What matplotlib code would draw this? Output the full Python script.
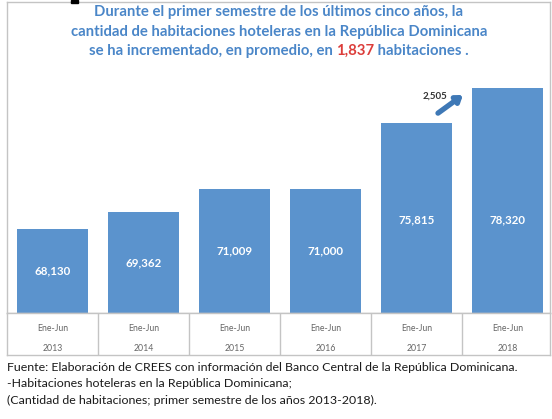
import numpy as np
import matplotlib
matplotlib.use("Agg")
import matplotlib.pyplot as plt
from matplotlib.patches import Rectangle

# datos
years = ["2013", "2014", "2015", "2016", "2017", "2018"]
period = ["Ene-Jun"] * 6
rooms = [68130, 69362, 71009, 71000, 75815, 78320]
labels = ["68,130", "69,362", "71,009", "71,000", "75,815", "78,320"]
jump_label = "2,505"

title_lines = ["Durante el primer semestre de los últimos cinco años, la",
               "cantidad de habitaciones hoteleras en la República Dominicana"]
title_last = ["se ha incrementado, en promedio, en ", "1,837", " habitaciones ."]
notes = ["Fuente: Elaboración de CREES con información del Banco Central de la República Dominicana.",
         "-Habitaciones hoteleras en la República Dominicana;",
         "(Cantidad de habitaciones; primer semestre de los años 2013-2018)."]

BLUE = "#5b93cd"
TBLUE = "#4a86c8"
RED = "#dc3d3a"
GRID = "#c4c4c4"

plt.rcParams["font.family"] = ["Lato", "DejaVu Sans"]

W, H = 552, 419
fig = plt.figure(figsize=(W / 100, H / 100), dpi=100)
r = fig.canvas.get_renderer()

def fx(px):
    return px / W

def fy(py):
    return 1 - py / H

def fit_size(txt, target, weight="normal"):
    # tamano de letra para que la linea ocupe target px
    t = fig.text(0, 0, txt, fontsize=10, fontweight=weight)
    w = t.get_window_extent(r).width
    t.remove()
    return 10 * target / w

# escala vertical (el eje no empieza en cero)
ymin = 62060
ymax = ymin + 311 / 0.01384
col = 91.0
left, right = 7, 550
xr = -0.5 + (right - left) / col

ax = fig.add_axes([fx(left), fy(313), fx(right - left), (313 - 2) / H])
x = np.arange(len(years))
ax.bar(x, rooms, width=0.77, color=BLUE, zorder=2)
ax.set_xlim(-0.5, xr)
ax.set_ylim(ymin, ymax)
ax.set_xticks([])
ax.set_yticks([])
for s in ax.spines.values():
    s.set_color(GRID)
    s.set_linewidth(1)

cap = 68780
for i, v in enumerate(rooms):
    ax.text(i, min((v + ymin) / 2, cap), labels[i], color="white",
            fontsize=8.3, fontweight="bold", ha="center", va="center")

# flecha del incremento
ax.annotate("", xy=(4.51, 77810), xytext=(4.236, 76500),
            arrowprops=dict(arrowstyle="-|>,head_length=0.35,head_width=0.25",
                            color="#3e78b6", lw=3.8, shrinkA=0, shrinkB=0))
ax.text(4.2, 77740, jump_label, fontsize=7, fontweight="bold",
        color="#333333", ha="center", va="center")

# tabla de categorias
tax = fig.add_axes([fx(left), fy(355), fx(right - left), 42 / H])
tax.set_xlim(-0.5, xr)
tax.set_ylim(0, 1)
tax.set_xticks([])
tax.set_yticks([])
for s in tax.spines.values():
    s.set_color(GRID)
    s.set_linewidth(1)
for i in range(1, len(years)):
    tax.axvline(i - 0.5, color=GRID, lw=1)
for i in range(len(years)):
    tax.text(i, 0.64, period[i], fontsize=6.3, color="#666666", ha="center", va="center")
    tax.text(i, 0.16, years[i], fontsize=6.3, color="#666666", ha="center", va="center")

# titulo
cx = 279
tsize = fit_size(title_lines[1], 417, "bold")
fig.text(fx(cx), fy(12), title_lines[0], color=TBLUE, fontsize=tsize,
         fontweight="bold", ha="center", va="center")
fig.text(fx(cx), fy(32), title_lines[1], color=TBLUE, fontsize=tsize,
         fontweight="bold", ha="center", va="center")

parts = []
for t, c in zip(title_last, [TBLUE, RED, TBLUE]):
    parts.append(fig.text(0, fy(51), t, color=c, fontsize=tsize, fontweight="bold",
                          ha="left", va="center"))
widths = [p.get_window_extent(r).width for p in parts]
x0 = cx - sum(widths) / 2
for p, w in zip(parts, widths):
    p.set_x(x0 / W)
    x0 += w

nsize = fit_size(notes[0], 510)
for k, line in enumerate(notes):
    fig.text(fx(7), fy(367 + 16.5 * k), line, fontsize=nsize, color="#1a1a1a",
             ha="left", va="center")

# marca negra pequena arriba
fig.patches.append(Rectangle((fx(71), fy(3)), fx(7), 3 / H, color="black",
                             transform=fig.transFigure, figure=fig))

fig.savefig("out.png", dpi=100)
